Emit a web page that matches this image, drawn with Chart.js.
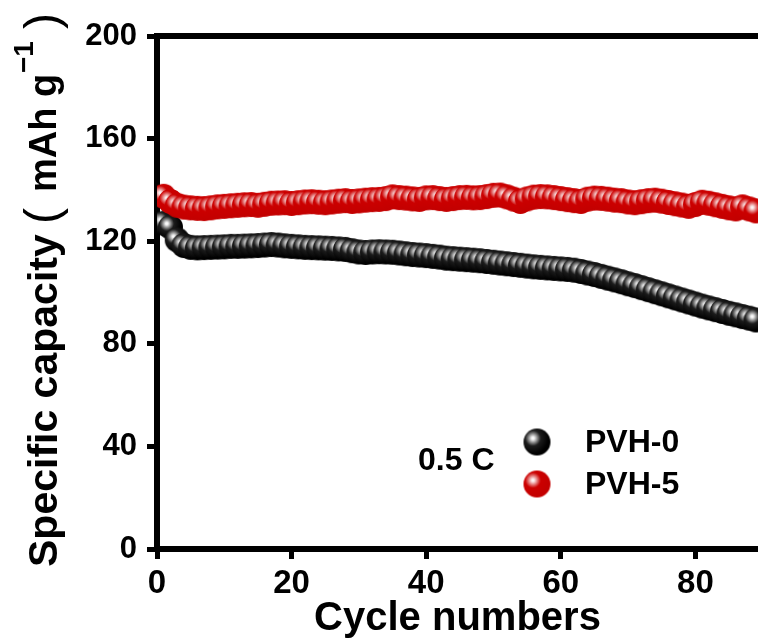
<!DOCTYPE html>
<html>
<head>
<meta charset="utf-8">
<script src="https://cdn.jsdelivr.net/npm/chart.js@4"></script>
<style>
  body { margin: 0; background: #fff; }
  #wrap { width: 758px; height: 639px; }
</style>
</head>
<body>
<div id="wrap"><canvas id="myChart" width="758" height="639"></canvas></div>
<script>
const cycles = [1, 2, 3, 4, 5, 6, 7, 8, 9, 10, 11, 12, 13, 14, 15, 16, 17, 18, 19, 20,
  21, 22, 23, 24, 25, 26, 27, 28, 29, 30, 31, 32, 33, 34, 35, 36, 37, 38, 39, 40,
  41, 42, 43, 44, 45, 46, 47, 48, 49, 50, 51, 52, 53, 54, 55, 56, 57, 58, 59, 60,
  61, 62, 63, 64, 65, 66, 67, 68, 69, 70, 71, 72, 73, 74, 75, 76, 77, 78, 79, 80,
  81, 82, 83, 84, 85, 86, 87, 88, 89];

const pvh0 = [127, 125.5, 120.5, 118.3, 117.6, 117.4, 117.5, 117.6, 117.7, 117.8,
  118, 118, 118.1, 118.2, 118.3, 118.5, 118.7, 118.5, 118.2, 118,
  117.8, 117.6, 117.5, 117.4, 117.3, 117.2, 117, 116.8, 116.3, 115.8,
  115.6, 115.8, 115.9, 115.8, 115.7, 115.4, 115.1, 114.8, 114.6, 114.4,
  114.1, 113.8, 113.4, 113.2, 113, 112.8, 112.6, 112.4, 112.1, 111.8,
  111.5, 111.2, 110.9, 110.6, 110.3, 110, 109.8, 109.6, 109.4, 109.2,
  109, 108.7, 108.2, 107.6, 107, 106.3, 105.6, 104.9, 104.2, 103.4,
  102.7, 101.9, 101.1, 100.3, 99.5, 98.7, 97.9, 97.1, 96.3, 95.5,
  94.7, 94, 93.3, 92.6, 91.9, 91.3, 90.6, 90, 89.3];

const pvh5 = [137.5, 135.5, 134, 133.3, 133, 132.8, 132.7, 133, 133.4, 133.6,
  133.8, 134, 134.2, 134.3, 134, 134.4, 134.8, 134.9, 135, 134.7,
  135, 135.3, 135.4, 135.2, 135, 135.3, 135.6, 135.8, 135.5, 135.7,
  136, 136.2, 136.3, 136.6, 137.3, 137, 136.8, 136.5, 136.3, 136.9,
  137, 136.6, 136.3, 136.6, 137, 137.1, 136.9, 137, 137.4, 137.9,
  138, 137.3, 136.4, 135.5, 136.5, 137.2, 137.4, 137.3, 137, 136.6,
  136.2, 135.8, 135.5, 136.4, 136.8, 136.7, 136.4, 136, 135.8, 135.3,
  135, 135.4, 135.8, 136, 135.6, 135.1, 134.6, 134.1, 133.6, 134.3,
  135.2, 134.8, 134.2, 133.6, 133, 132.6, 133.4, 132.6, 131.8];

const yTicks = [0, 40, 80, 120, 160, 200];
const xTicks = [0, 20, 40, 60, 80];

const FONT = "'Liberation Sans', Arial, sans-serif";

// shiny ball used as point style
function makeBall(r, stops) {
  const s = Math.ceil(r * 2) + 2;
  const c = document.createElement('canvas');
  c.width = s; c.height = s;
  const g = c.getContext('2d');
  const cx = s / 2, cy = s / 2;
  const hx = cx - r * 0.3, hy = cy - r * 0.28;
  const grad = g.createRadialGradient(hx, hy, 0, hx, hy, r * 1.15);
  stops.forEach(st => grad.addColorStop(st[0], st[1]));
  g.fillStyle = grad;
  g.beginPath();
  g.arc(cx, cy, r, 0, Math.PI * 2);
  g.fill();
  return c;
}

const blackStops = [[0, '#ffffff'], [0.09, '#f4f4f4'], [0.2, '#b8b8b8'], [0.34, '#6e6e6e'], [0.5, '#1c1c1c'], [1, '#000000']];
const redStops = [[0, '#ffffff'], [0.09, '#fbeaea'], [0.2, '#eeaaaa'], [0.34, '#dd5a5a'], [0.5, '#cc0000'], [1, '#c40000']];

const ballBlack = makeBall(12.5, blackStops);
const ballRed = makeBall(12.5, redStops);
const legBlack = makeBall(13.5, blackStops);
const legRed = makeBall(13.5, redStops);

const decor = {
  id: 'decor',
  afterDraw(chart) {
    const { ctx, chartArea: a } = chart;
    ctx.save();
    // top frame
    ctx.strokeStyle = '#000';
    ctx.lineWidth = 6;
    ctx.beginPath();
    ctx.moveTo(a.left - 3, a.top);
    ctx.lineTo(a.right, a.top);
    ctx.stroke();

    // y axis title, rotated
    ctx.fillStyle = '#000';
    ctx.translate(46, 567);
    ctx.rotate(-Math.PI / 2);
    ctx.textBaseline = 'middle';
    ctx.textAlign = 'left';
    ctx.font = 'bold 41px ' + FONT;
    ctx.fillText('Specific capacity', 0, 0);
    ctx.font = 'normal 48px ' + FONT;
    ctx.fillText('(', 343, -1);
    ctx.font = 'bold 38px ' + FONT;
    ctx.fillText('mAh g', 375, 0);
    ctx.font = 'bold 28px ' + FONT;
    ctx.fillText('\u22121', 494, -21);
    ctx.font = 'normal 48px ' + FONT;
    ctx.fillText(')', 538, -1);
    ctx.restore();

    // legend + rate label
    ctx.save();
    ctx.fillStyle = '#000';
    ctx.textBaseline = 'middle';
    ctx.textAlign = 'left';
    ctx.font = 'bold 32px ' + FONT;
    ctx.fillText('0.5 C', 418, 461);
    ctx.drawImage(legBlack, 537 - legBlack.width / 2, 442 - legBlack.height / 2);
    ctx.drawImage(legRed, 537 - legRed.width / 2, 484 - legRed.height / 2);
    ctx.fillText('PVH-0', 585, 443);
    ctx.fillText('PVH-5', 585, 485);
    ctx.restore();
  }
};

const ctx = document.getElementById('myChart').getContext('2d');
new Chart(ctx, {
  type: 'scatter',
  data: {
    datasets: [
      {
        label: 'PVH-0',
        data: cycles.map((c, i) => ({ x: c, y: pvh0[i] })),
        pointStyle: ballBlack,
        pointRadius: 12.5,
        showLine: false,
        clip: 0,
        order: 2
      },
      {
        label: 'PVH-5',
        data: cycles.map((c, i) => ({ x: c, y: pvh5[i] })),
        pointStyle: ballRed,
        pointRadius: 12.5,
        showLine: false,
        clip: 0,
        order: 1
      }
    ]
  },
  options: {
    responsive: false,
    animation: false,
    events: [],
    layout: { autoPadding: false, padding: { top: 36, right: 0, bottom: 0, left: 0 } },
    plugins: { legend: { display: false }, tooltip: { enabled: false } },
    scales: {
      x: {
        type: 'linear',
        min: 0,
        max: 89.3,
        z: 1,
        afterBuildTicks: s => { s.ticks = xTicks.map(v => ({ value: v })); },
        afterFit: s => { s.height = 90; s.paddingLeft = 0; s.paddingRight = 0; },
        border: { display: true, color: '#000', width: 6 },
        grid: { drawOnChartArea: false, drawTicks: true, tickLength: 10, lineWidth: 5, color: '#000' },
        ticks: { color: '#000', padding: 5, maxRotation: 0, font: { family: FONT, size: 33, weight: 'bold' } },
        title: {
          display: true,
          text: 'Cycle numbers',
          color: '#000',
          padding: 0,
          font: { family: FONT, size: 40, weight: 'bold', lineHeight: 1 }
        }
      },
      y: {
        min: 0,
        max: 200,
        z: 1,
        afterBuildTicks: s => { s.ticks = yTicks.map(v => ({ value: v })); },
        afterFit: s => { s.width = 157; s.paddingTop = 0; s.paddingBottom = 0; },
        border: { display: true, color: '#000', width: 6 },
        grid: { drawOnChartArea: false, drawTicks: true, tickLength: 10, lineWidth: 5, color: '#000' },
        ticks: { color: '#000', padding: 10, font: { family: FONT, size: 31, weight: 'bold' } },
        title: { display: false }
      }
    }
  },
  plugins: [decor]
});
</script>
</body>
</html>
